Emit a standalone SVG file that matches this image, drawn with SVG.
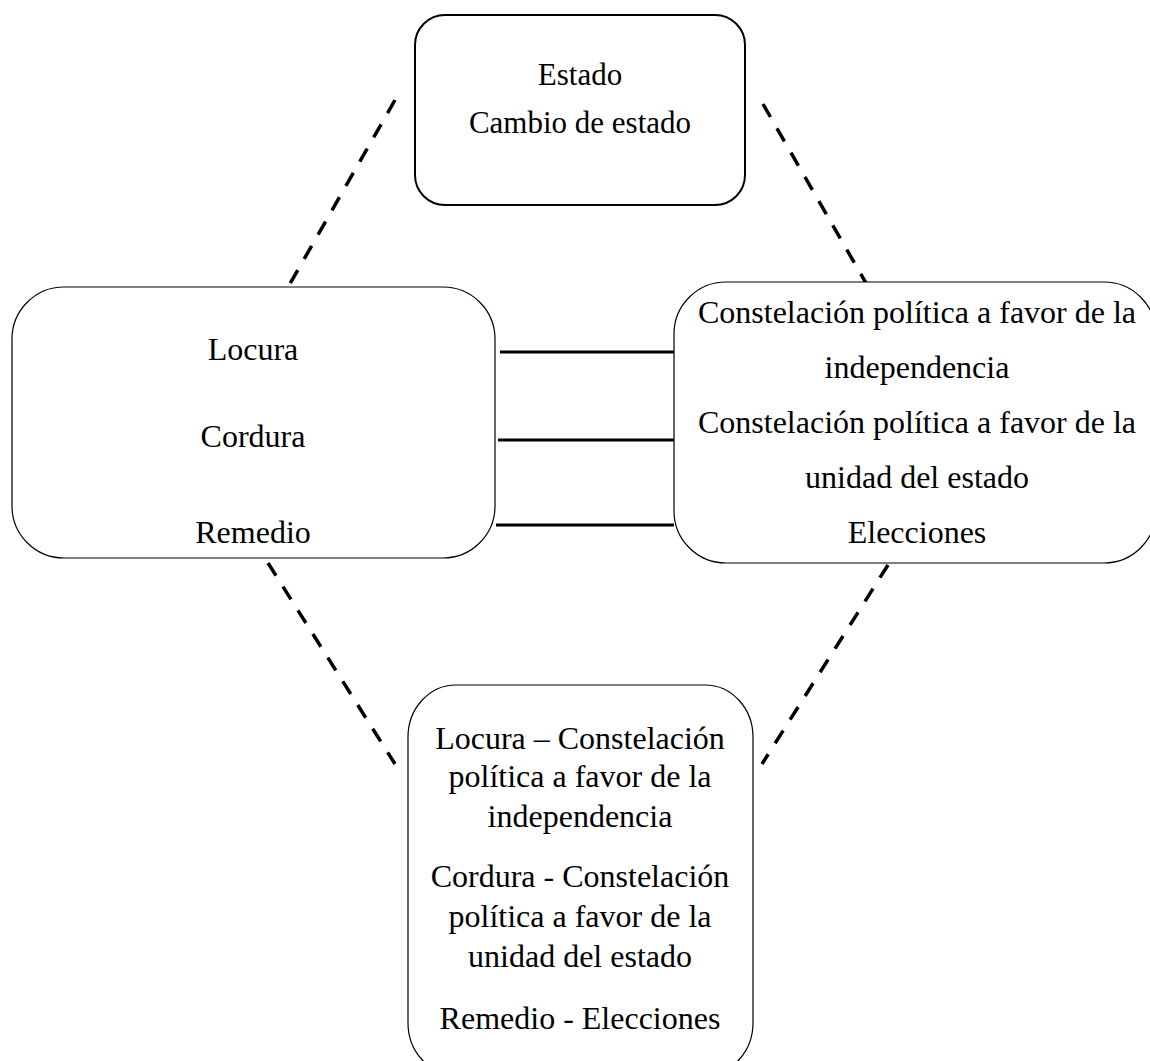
<svg xmlns="http://www.w3.org/2000/svg" width="1150" height="1061" viewBox="0 0 1150 1061">
<style>
.box{fill:#fff;stroke:#000;stroke-width:1.2}
.box2{fill:#fff;stroke:#000;stroke-width:2}
.t{font-family:"Liberation Serif","Times New Roman",serif;font-size:32px;fill:#000;text-anchor:middle}
.dash{stroke:#000;stroke-width:3.5;stroke-dasharray:15 13;fill:none}
.solid{stroke:#000;stroke-width:3;fill:none}
</style>
<rect width="1150" height="1061" fill="#fff"/>
<g id="connectors">
<line class="dash" x1="395" y1="100" x2="287" y2="289"/>
<line class="dash" x1="763" y1="104" x2="870" y2="290"/>
<line class="dash" x1="268" y1="563" x2="395" y2="764"/>
<line class="dash" x1="888" y1="565" x2="762" y2="764"/>
<line class="solid" x1="500" y1="352" x2="674" y2="352"/>
<line class="solid" x1="498" y1="440" x2="674" y2="440"/>
<line class="solid" x1="496" y1="525" x2="674" y2="525"/>
</g>
<g id="node-estado">
<rect class="box2" x="415" y="15" width="330" height="190" rx="30" ry="30"/>
<text class="t" x="580" y="85" style="font-size:31px">Estado</text>
<text class="t" x="580" y="133" style="font-size:31px">Cambio de estado</text>
</g>
<g id="node-locura">
<rect class="box" x="12" y="287" width="483" height="271" rx="52" ry="52"/>
<text class="t" x="253" y="360">Locura</text>
<text class="t" x="253" y="447">Cordura</text>
<text class="t" x="253" y="543">Remedio</text>
</g>
<g id="node-constelacion">
<rect class="box" x="674" y="282" width="482" height="281" rx="52" ry="52"/>
<text class="t" x="917" y="323">Constelación política a favor de la</text>
<text class="t" x="917" y="378">independencia</text>
<text class="t" x="917" y="433">Constelación política a favor de la</text>
<text class="t" x="917" y="488">unidad del estado</text>
<text class="t" x="917" y="543">Elecciones</text>
</g>
<g id="node-combinacion">
<rect class="box" x="408" y="685" width="345" height="390" rx="48" ry="52"/>
<text class="t" x="580" y="749">Locura – Constelación</text>
<text class="t" x="580" y="787">política a favor de la</text>
<text class="t" x="580" y="827">independencia</text>
<text class="t" x="580" y="887">Cordura - Constelación</text>
<text class="t" x="580" y="927">política a favor de la</text>
<text class="t" x="580" y="967">unidad del estado</text>
<text class="t" x="580" y="1029">Remedio - Elecciones</text>
</g>
</svg>
